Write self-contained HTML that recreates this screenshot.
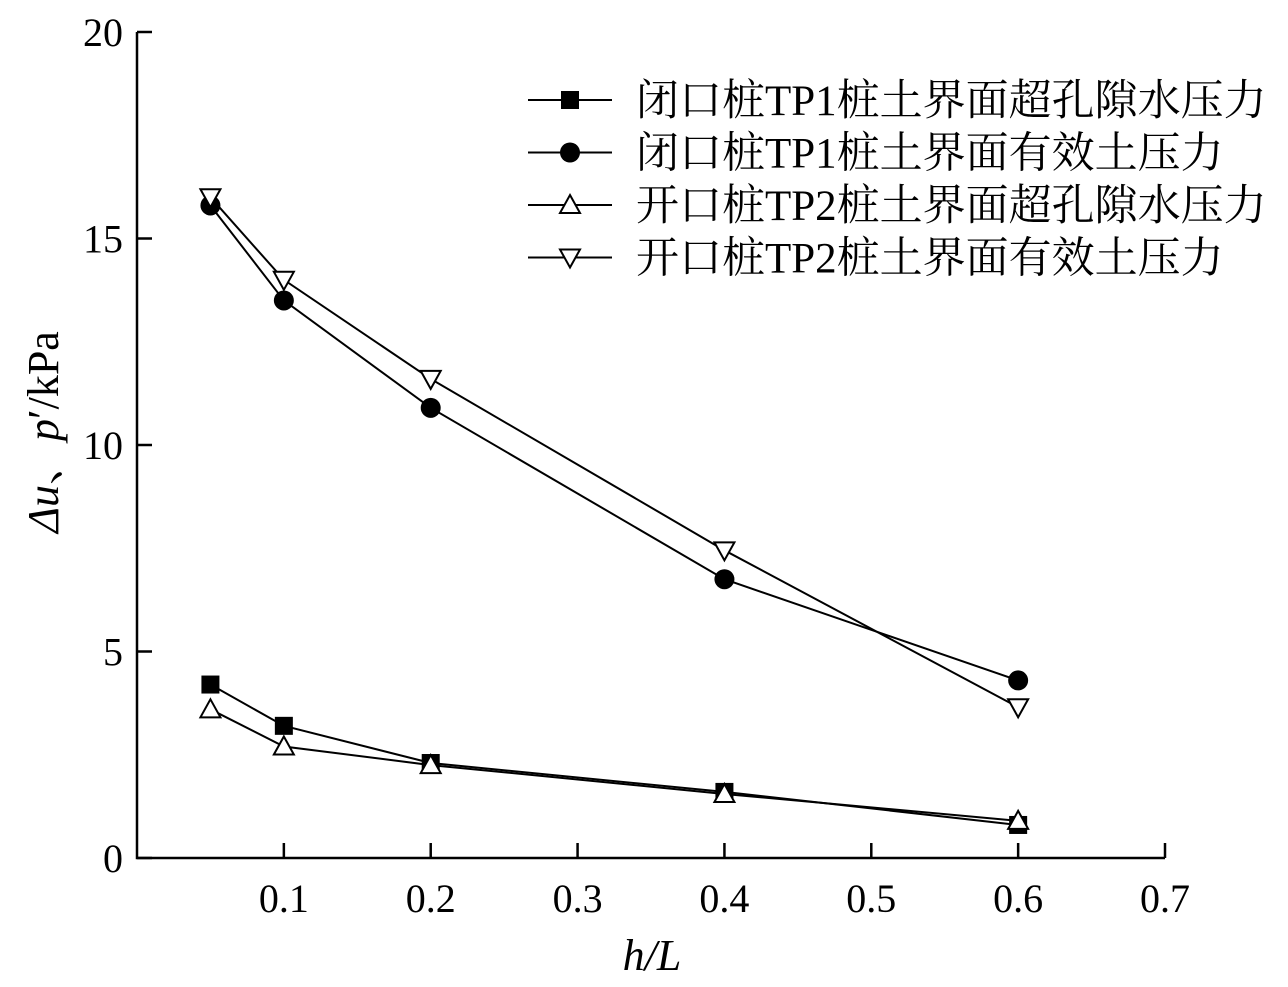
<!DOCTYPE html>
<html><head><meta charset="utf-8"><style>
body{margin:0;background:#fff}
svg text{font-family:"Liberation Serif","Noto Serif CJK SC",serif;fill:#000}
</style></head><body>
<svg id="chart" width="1288" height="982" xmlns="http://www.w3.org/2000/svg"></svg>
<script>
const xValues=[0.05,0.1,0.2,0.4,0.6];
const closedU=[4.2,3.2,2.3,1.6,0.8];
const closedP=[15.8,13.5,10.9,6.75,4.3];
const openU=[3.6,2.7,2.25,1.55,0.9];
const openP=[16.0,14.0,11.6,7.45,3.65];
const xTicks=[0.1,0.2,0.3,0.4,0.5,0.6,0.7];
const yTicks=[0,5,10,15,20];
const seriesNames=["闭口桩TP1桩土界面超孔隙水压力","闭口桩TP1桩土界面有效土压力","开口桩TP2桩土界面超孔隙水压力","开口桩TP2桩土界面有效土压力"];
const NS="http://www.w3.org/2000/svg";
const svg=document.getElementById('chart');
const X0=137,X1=1165,Y0=858,Y1=32;
const sx=v=>X0+v/0.7*(X1-X0);
const sy=v=>Y0-v/20*(Y0-Y1);
function mk(t,a,p){const e=document.createElementNS(NS,t);for(const k in a)e.setAttribute(k,a[k]);(p||svg).appendChild(e);return e;}
let e;
e=mk('path',{d:`M${X0} ${Y1}V${Y0}H${X1}`,fill:'none',stroke:'#000','stroke-width':2.5});


xTicks.forEach(t=>{
 e=mk('line',{x1:sx(t),x2:sx(t),y1:Y0,y2:Y0-15,stroke:'#000','stroke-width':2.5});
 
 
 e=mk('text',{x:sx(t),y:Y0+54,'font-size':40,'text-anchor':'middle'});e.textContent=t.toFixed(1);
 
 
});
yTicks.forEach(t=>{
 e=mk('line',{x1:X0,x2:X0+15,y1:sy(t),y2:sy(t),stroke:'#000','stroke-width':2.5});
 
 
 e=mk('text',{x:X0-14,y:sy(t)+14,'font-size':40,'text-anchor':'end'});e.textContent=t;
 
 
});
e=mk('text',{x:652,y:970,'font-size':44,'font-style':'italic','text-anchor':'middle'});e.textContent='h/L';


e=mk('text',{x:0,y:0,'font-size':44,'text-anchor':'middle',transform:'translate(58,432) rotate(-90)'});
e.innerHTML='<tspan font-style="italic">Δu</tspan>、<tspan font-style="italic">p</tspan>′/kPa';


function marker(type,x,y,g){
 const r=10;
 if(type==0)return mk('rect',{x:x-9,y:y-9,width:18,height:18,fill:'#000'},g);
 if(type==1)return mk('circle',{cx:x,cy:y,r:10,fill:'#000'},g);
 if(type==2)return mk('path',{d:`M${x} ${y-r}L${x+r} ${y+8}L${x-r} ${y+8}Z`,fill:'#fff',stroke:'#000','stroke-width':2},g);
 return mk('path',{d:`M${x} ${y+r}L${x+r} ${y-8}L${x-r} ${y-8}Z`,fill:'#fff',stroke:'#000','stroke-width':2},g);
}
const all=[closedU,closedP,openU,openP];
const snames=['series-closed-pore-pressure','series-closed-effective-pressure','series-open-pore-pressure','series-open-effective-pressure'];
all.forEach((ys,i)=>{
 const g=mk('g',{});
 
 
 e=mk('polyline',{points:ys.map((v,j)=>sx(xValues[j])+','+sy(v)).join(' '),fill:'none',stroke:'#000','stroke-width':2},g);
 
 
 ys.forEach((v,j)=>{e=marker(i,sx(xValues[j]),sy(v),g);
  
  });
});
seriesNames.forEach((n,i)=>{
 const y=100+i*52.5;
 const g=mk('g',{});
 
 
 mk('line',{x1:528,x2:612,y1:y,y2:y,stroke:'#000','stroke-width':2},g);
 marker(i,570,y,g);
 e=mk('text',{x:636,y:y+15,'font-size':43},g);e.textContent=n;
});
</script>
</body></html>
